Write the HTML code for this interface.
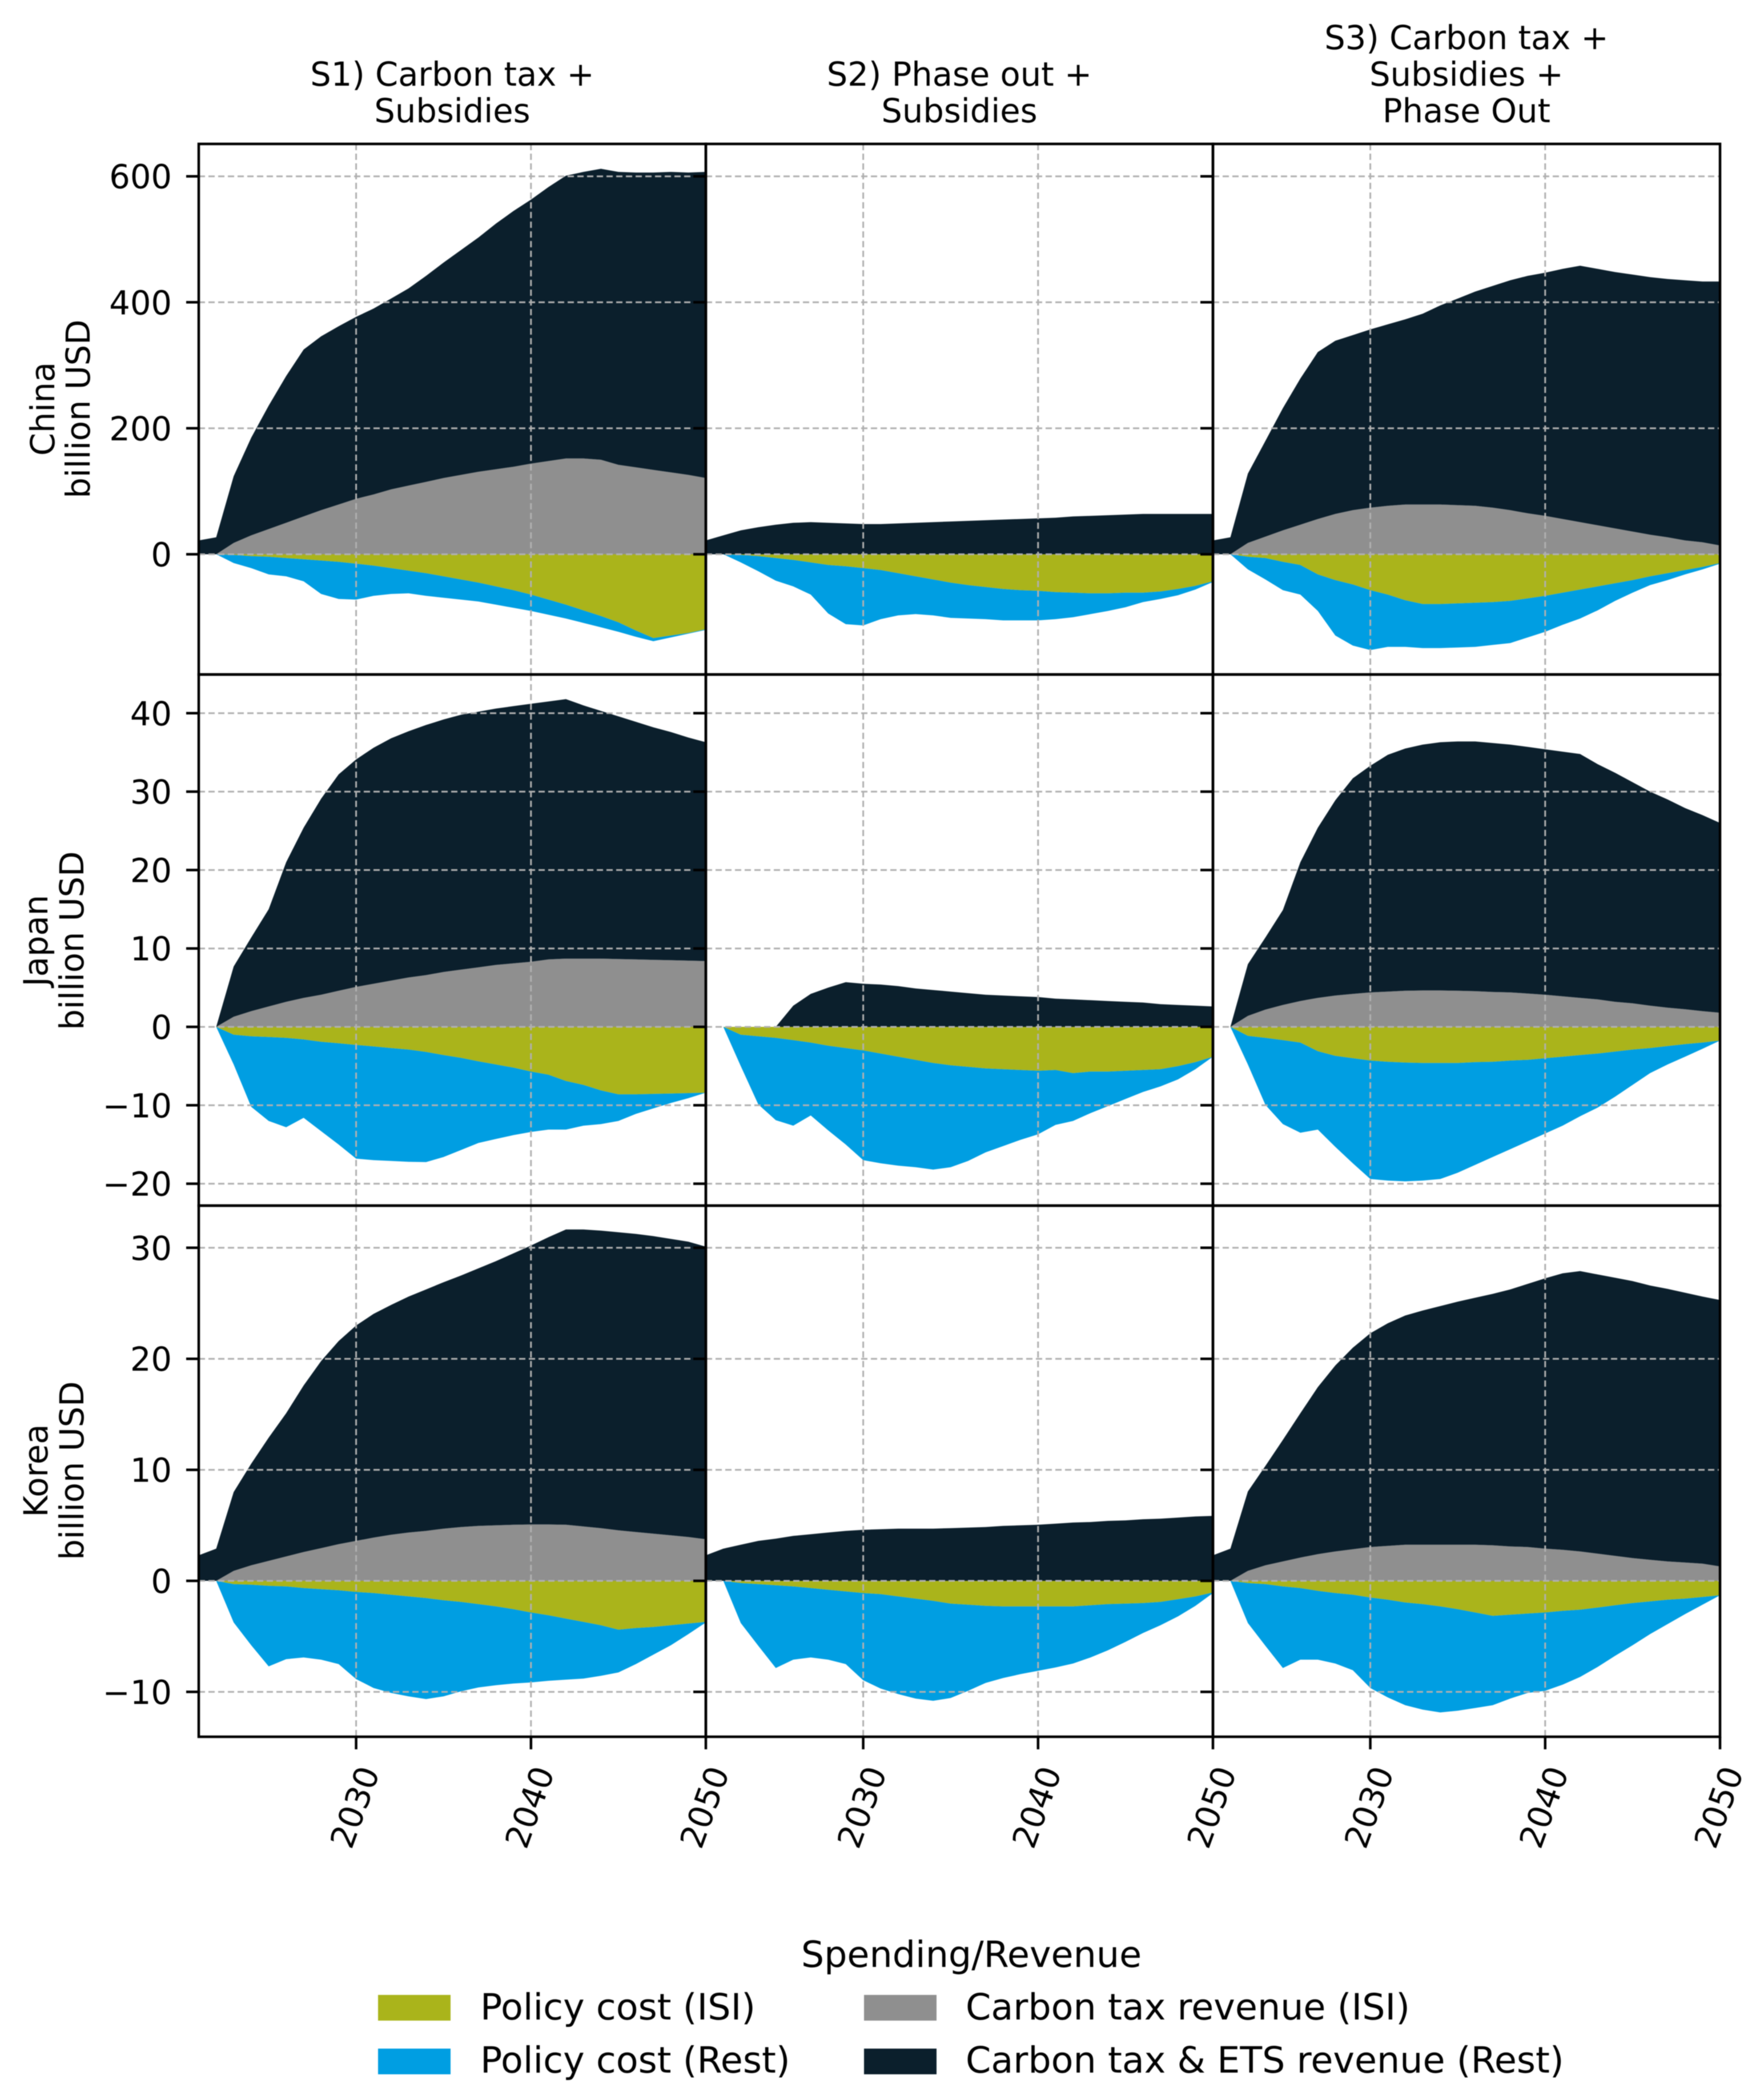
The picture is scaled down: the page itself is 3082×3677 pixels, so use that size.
<!DOCTYPE html>
<html lang="en">
<head>
<meta charset="utf-8">
<title>Spending and revenue by scenario</title>
<style>
html,body{margin:0;padding:0;background:#fff;}
svg{display:block;font-family:"DejaVu Sans","Liberation Sans",sans-serif;fill:#000;filter:blur(0.8px);}
text{font-size:57.5px;}
.legend-text{font-size:63.5px;}
</style>
</head>
<body>
<svg id="chart" xmlns="http://www.w3.org/2000/svg" width="3082" height="3677" viewBox="0 0 3082 3677">
  <rect x="0" y="0" width="3082" height="3677" fill="#ffffff"/>
  <g id="panels"></g>

  <g text-anchor="middle">
    <text x="792" y="150">S1) Carbon tax +</text>
    <text x="792" y="214">Subsidies</text>
    <text x="1680" y="150">S2) Phase out +</text>
    <text x="1680" y="214">Subsidies</text>
    <text x="2568" y="86">S3) Carbon tax +</text>
    <text x="2568" y="150">Subsidies +</text>
    <text x="2568" y="214">Phase Out</text>
  </g>

  <g text-anchor="middle">
    <text transform="translate(95 716) rotate(-90)">China</text>
    <text transform="translate(157 716) rotate(-90)">billion USD</text>
    <text transform="translate(83 1647) rotate(-90)">Japan</text>
    <text transform="translate(146 1647) rotate(-90)">billion USD</text>
    <text transform="translate(83 2575) rotate(-90)">Korea</text>
    <text transform="translate(146 2575) rotate(-90)">billion USD</text>
  </g>

  <g>
    <text class="legend-text" x="1701" y="3444" text-anchor="middle">Spending/Revenue</text>
    <g>
      <rect x="662" y="3493" width="127" height="45" fill="#aab41b"/>
      <text class="legend-text" x="841" y="3536">Policy cost (ISI)</text>
    </g>
    <g>
      <rect x="662" y="3587" width="127" height="45" fill="#009ee2"/>
      <text class="legend-text" x="841" y="3629">Policy cost (Rest)</text>
    </g>
    <g>
      <rect x="1513" y="3493" width="127" height="45" fill="#8f8f8f"/>
      <text class="legend-text" x="1691" y="3536">Carbon tax revenue (ISI)</text>
    </g>
    <g>
      <rect x="1513" y="3587" width="127" height="45" fill="#0b1f2c"/>
      <text class="legend-text" x="1691" y="3629">Carbon tax &amp; ETS revenue (Rest)</text>
    </g>
  </g>
</svg>

<script>
// ---- categories and tick labels ----
const years = [2021,2022,2023,2024,2025,2026,2027,2028,2029,2030,2031,2032,2033,2034,2035,2036,2037,2038,2039,2040,2041,2042,2043,2044,2045,2046,2047,2048,2049,2050];
const xTickYears = [2030,2040,2050];
const chinaTicks = [0,200,400,600];
const japanTicks = [-20,-10,0,10,20,30,40];
const koreaTicks = [-10,0,10,20,30];

// ---- China, S1 ----
const chinaS1TaxIsi = [0,0,18,30,40,50,60,70,79,88,95,103,109,115,121,126,131,135,139,144,148,152,152,150,142,138,134,130,126,121];
const chinaS1TaxTotal = [22,27,124,185,236,283,325,346,362,377,390,406,422,442,463,483,503,525,545,563,583,601,607,612,607,606,606,607,606,607];
const chinaS1CostIsi = [0,0,-1,-3,-4,-6,-8,-10,-12,-15,-18,-22,-26,-30,-35,-40,-45,-51,-57,-64,-72,-80,-89,-98,-108,-121,-133,-129,-125,-119];
const chinaS1CostTotal = [0,0,-14,-22,-32,-35,-43,-63,-71,-72,-66,-63,-62,-66,-69,-72,-75,-80,-85,-90,-96,-102,-109,-116,-123,-131,-138,-132,-126,-120];

// ---- China, S2 ----
const chinaS2TaxIsi = [0,0,0,0,0,0,0,0,0,0,0,0,0,0,0,0,0,0,0,0,0,0,0,0,0,0,0,0,0,0];
const chinaS2TaxTotal = [22,30,38,43,47,50,51,50,49,48,48,49,50,51,52,53,54,55,56,57,58,60,61,62,63,64,64,64,64,64];
const chinaS2CostIsi = [0,0,-1,-3,-6,-9,-13,-17,-19,-22,-25,-30,-35,-40,-45,-49,-52,-55,-57,-58,-60,-61,-62,-62,-61,-61,-59,-55,-50,-43];
const chinaS2CostTotal = [0,0,-13,-27,-42,-51,-64,-94,-111,-113,-103,-97,-95,-97,-101,-102,-103,-105,-105,-105,-103,-100,-95,-90,-84,-76,-71,-65,-56,-44];

// ---- China, S3 ----
const chinaS3TaxIsi = [0,0,18,28,38,47,56,64,70,74,77,79,79,79,78,77,74,70,65,61,56,51,46,41,36,31,27,22,19,14];
const chinaS3TaxTotal = [22,27,128,180,232,279,321,339,348,357,365,373,382,395,406,417,426,435,442,447,453,458,453,448,444,440,437,435,433,433];
const chinaS3CostIsi = [0,0,-4,-6,-12,-17,-32,-41,-48,-57,-64,-73,-79,-79,-78,-77,-76,-74,-70,-66,-61,-56,-51,-46,-41,-35,-30,-25,-20,-14];
const chinaS3CostTotal = [0,0,-24,-40,-57,-64,-90,-129,-145,-152,-147,-147,-149,-149,-148,-147,-144,-141,-132,-123,-112,-102,-89,-74,-61,-49,-41,-32,-24,-15];

// ---- Japan, S1 ----
const japanS1TaxIsi = [0,0,1.3,2,2.6,3.2,3.7,4.1,4.6,5.1,5.5,5.9,6.3,6.6,7,7.3,7.6,7.9,8.1,8.3,8.6,8.7,8.7,8.7,8.65,8.6,8.55,8.5,8.45,8.4];
const japanS1TaxTotal = [0,0,7.7,11.4,15,21,25.4,29.1,32.2,34.1,35.6,36.8,37.7,38.5,39.2,39.8,40.2,40.6,40.9,41.2,41.5,41.8,41,40.3,39.6,38.9,38.2,37.6,36.9,36.3];
const japanS1CostIsi = [0,0,-1,-1.2,-1.3,-1.4,-1.6,-1.9,-2.1,-2.3,-2.5,-2.7,-2.9,-3.2,-3.6,-3.95,-4.4,-4.8,-5.2,-5.7,-6.1,-6.9,-7.4,-8.1,-8.6,-8.6,-8.55,-8.5,-8.45,-8.4];
const japanS1CostTotal = [0,0,-4.8,-10.2,-12,-12.8,-11.6,-13.3,-15,-16.8,-17,-17.1,-17.2,-17.25,-16.6,-15.7,-14.8,-14.3,-13.8,-13.4,-13.1,-13.1,-12.6,-12.4,-12,-11.1,-10.4,-9.7,-9.1,-8.4];

// ---- Japan, S2 ----
const japanS2TaxIsi = [0,0,0,0,0,0,0,0,0,0,0,0,0,0,0,0,0,0,0,0,0,0,0,0,0,0,0,0,0,0];
const japanS2TaxTotal = [0,0,0,0,0,2.7,4.2,5,5.7,5.5,5.4,5.2,4.9,4.7,4.5,4.3,4.1,4,3.9,3.8,3.6,3.5,3.4,3.3,3.2,3.1,2.9,2.8,2.7,2.6];
const japanS2CostIsi = [0,0,-1,-1.2,-1.4,-1.7,-2,-2.4,-2.7,-3,-3.4,-3.8,-4.2,-4.6,-4.9,-5.1,-5.3,-5.4,-5.5,-5.6,-5.5,-5.9,-5.7,-5.7,-5.6,-5.5,-5.4,-5,-4.5,-3.8];
const japanS2CostTotal = [0,0,-5,-9.9,-11.9,-12.6,-11.3,-13.2,-15,-17,-17.4,-17.7,-17.9,-18.2,-17.9,-17.1,-16,-15.2,-14.4,-13.7,-12.5,-12,-11,-10.1,-9.2,-8.3,-7.6,-6.7,-5.4,-3.8];

// ---- Japan, S3 ----
const japanS3TaxIsi = [0,0,1.4,2.2,2.8,3.3,3.7,4,4.2,4.4,4.5,4.6,4.65,4.65,4.6,4.55,4.45,4.4,4.25,4.1,3.9,3.7,3.5,3.2,3,2.7,2.45,2.25,2,1.8];
const japanS3TaxTotal = [0,0,8,11.4,14.9,21,25.4,28.9,31.7,33.3,34.7,35.5,36,36.3,36.4,36.4,36.2,36,35.7,35.4,35.1,34.8,33.5,32.4,31.2,30,29,27.9,27,26];
const japanS3CostIsi = [0,0,-1.15,-1.4,-1.7,-2,-3.1,-3.7,-4,-4.3,-4.45,-4.55,-4.6,-4.6,-4.6,-4.5,-4.45,-4.3,-4.2,-4,-3.8,-3.6,-3.4,-3.15,-2.9,-2.7,-2.45,-2.2,-2,-1.75];
const japanS3CostTotal = [0,0,-4.8,-9.95,-12.4,-13.5,-13.1,-15.3,-17.4,-19.4,-19.6,-19.7,-19.6,-19.4,-18.6,-17.6,-16.6,-15.6,-14.6,-13.6,-12.6,-11.4,-10.3,-8.9,-7.4,-5.9,-4.8,-3.8,-2.8,-1.75];

// ---- Korea, S1 ----
const koreaS1TaxIsi = [0,0,0.9,1.4,1.8,2.2,2.6,2.95,3.3,3.6,3.9,4.15,4.35,4.5,4.7,4.85,4.95,5,5.05,5.08,5.08,5.05,4.9,4.75,4.55,4.4,4.25,4.1,3.95,3.75];
const koreaS1TaxTotal = [2.3,2.9,8,10.55,12.9,15.1,17.6,19.8,21.6,23,24.05,24.85,25.6,26.25,26.9,27.5,28.15,28.8,29.5,30.2,30.95,31.65,31.65,31.55,31.4,31.25,31.05,30.8,30.55,30.1];
const koreaS1CostIsi = [0,0,-0.3,-0.35,-0.45,-0.5,-0.65,-0.75,-0.85,-1,-1.1,-1.25,-1.4,-1.55,-1.75,-1.9,-2.1,-2.3,-2.55,-2.85,-3.1,-3.4,-3.7,-4,-4.4,-4.25,-4.15,-4,-3.85,-3.7];
const koreaS1CostTotal = [0,0,-3.75,-5.8,-7.7,-7.05,-6.9,-7.1,-7.5,-8.85,-9.65,-10.1,-10.4,-10.65,-10.4,-9.95,-9.6,-9.4,-9.25,-9.15,-9,-8.9,-8.8,-8.55,-8.25,-7.5,-6.65,-5.8,-4.8,-3.75];

// ---- Korea, S2 ----
const koreaS2TaxIsi = [0,0,0,0,0,0,0,0,0,0,0,0,0,0,0,0,0,0,0,0,0,0,0,0,0,0,0,0,0,0];
const koreaS2TaxTotal = [2.3,2.9,3.25,3.6,3.8,4.05,4.2,4.35,4.5,4.6,4.65,4.7,4.7,4.7,4.75,4.8,4.85,4.95,5,5.05,5.15,5.25,5.3,5.4,5.45,5.55,5.6,5.7,5.8,5.85];
const koreaS2CostIsi = [0,0,-0.2,-0.3,-0.4,-0.5,-0.65,-0.8,-0.95,-1.1,-1.2,-1.4,-1.6,-1.8,-2.05,-2.15,-2.25,-2.3,-2.3,-2.3,-2.3,-2.3,-2.2,-2.1,-2.05,-2,-1.9,-1.65,-1.4,-1.05];
const koreaS2CostTotal = [0,0,-3.8,-5.85,-7.85,-7.1,-6.9,-7.1,-7.5,-8.95,-9.7,-10.2,-10.6,-10.8,-10.55,-9.9,-9.2,-8.75,-8.4,-8.1,-7.8,-7.45,-6.9,-6.25,-5.5,-4.7,-4,-3.2,-2.25,-1.1];

// ---- Korea, S3 ----
const koreaS3TaxIsi = [0,0,0.9,1.4,1.75,2.1,2.4,2.65,2.85,3.05,3.15,3.25,3.25,3.25,3.25,3.25,3.2,3.1,3.05,2.9,2.8,2.65,2.45,2.25,2.05,1.9,1.75,1.65,1.55,1.3];
const koreaS3TaxTotal = [2.3,2.9,8.05,10.35,12.7,15.1,17.45,19.4,21,22.3,23.2,23.9,24.35,24.75,25.15,25.5,25.85,26.25,26.75,27.25,27.7,27.9,27.6,27.3,27,26.6,26.3,25.95,25.6,25.3];
const koreaS3CostIsi = [0,0,-0.2,-0.3,-0.5,-0.65,-0.9,-1.1,-1.25,-1.5,-1.7,-1.95,-2.1,-2.3,-2.55,-2.85,-3.15,-3.05,-2.95,-2.85,-2.7,-2.6,-2.4,-2.2,-2,-1.85,-1.7,-1.6,-1.45,-1.3];
const koreaS3CostTotal = [0,0,-3.8,-5.85,-7.85,-7.1,-7.1,-7.45,-8.05,-9.65,-10.5,-11.2,-11.6,-11.85,-11.7,-11.45,-11.2,-10.6,-10.1,-9.9,-9.35,-8.65,-7.75,-6.75,-5.8,-4.8,-3.9,-3,-2.15,-1.3];

// ---- layout ----
const SVG_NS = 'http://www.w3.org/2000/svg';
const COL_LEFT = [348, 1236, 2124];
const COL_WIDTH = 888;
const ROW_TOP = [252, 1181, 2111];
const ROW_BOTTOM = [1181, 2111, 3041];
const X_MIN = 2021, X_MAX = 2050;
const ROW_DOMAIN = [
  {zeroY: 970.5, pxPerUnit: 1.103},
  {zeroY: 1798, pxPerUnit: 13.73},
  {zeroY: 2768, pxPerUnit: 19.44}
];
const COLORS = {costIsi: '#aab41b', costRest: '#009ee2', taxIsi: '#8f8f8f', taxRest: '#0b1f2c'};

function xScale(col, year) {
  return COL_LEFT[col] + (year - X_MIN) / (X_MAX - X_MIN) * COL_WIDTH;
}
function yScale(row, value) {
  return ROW_DOMAIN[row].zeroY - value * ROW_DOMAIN[row].pxPerUnit;
}
function areaPoints(col, row, upper, lower) {
  const fwd = years.map(function (yr, i) {
    return xScale(col, yr).toFixed(1) + ',' + yScale(row, upper[i]).toFixed(1);
  });
  const back = years.map(function (yr, i) {
    return xScale(col, yr).toFixed(1) + ',' + yScale(row, lower ? lower[i] : 0).toFixed(1);
  }).reverse();
  return fwd.concat(back).join(' ');
}
function makeEl(tag, parent) {
  const el = document.createElementNS(SVG_NS, tag);
  parent.appendChild(el);
  return el;
}
function line(parent, x1, y1, x2, y2, stroke, width, dash) {
  const el = makeEl('line', parent);
  el.setAttribute('x1', x1);
  el.setAttribute('y1', y1);
  el.setAttribute('x2', x2);
  el.setAttribute('y2', y2);
  el.setAttribute('stroke', stroke);
  el.setAttribute('stroke-width', width);
  if (dash) el.setAttribute('stroke-dasharray', dash);
  return el;
}

const panelData = [
  [
    [chinaS1TaxIsi, chinaS1TaxTotal, chinaS1CostIsi, chinaS1CostTotal],
    [chinaS2TaxIsi, chinaS2TaxTotal, chinaS2CostIsi, chinaS2CostTotal],
    [chinaS3TaxIsi, chinaS3TaxTotal, chinaS3CostIsi, chinaS3CostTotal]
  ],
  [
    [japanS1TaxIsi, japanS1TaxTotal, japanS1CostIsi, japanS1CostTotal],
    [japanS2TaxIsi, japanS2TaxTotal, japanS2CostIsi, japanS2CostTotal],
    [japanS3TaxIsi, japanS3TaxTotal, japanS3CostIsi, japanS3CostTotal]
  ],
  [
    [koreaS1TaxIsi, koreaS1TaxTotal, koreaS1CostIsi, koreaS1CostTotal],
    [koreaS2TaxIsi, koreaS2TaxTotal, koreaS2CostIsi, koreaS2CostTotal],
    [koreaS3TaxIsi, koreaS3TaxTotal, koreaS3CostIsi, koreaS3CostTotal]
  ]
];
const rowTicks = [chinaTicks, japanTicks, koreaTicks];
const rowNames = ['china', 'japan', 'korea'];
const colNames = ['s1', 's2', 's3'];
const root = document.getElementById('panels');

// clipping rectangles per panel
const defs = makeEl('defs', root);
rowNames.forEach(function (rn, r) {
  colNames.forEach(function (cn, c) {
    const clip = makeEl('clipPath', defs);
    clip.setAttribute('id', 'clip-' + rn + '-' + cn);
    const rc = makeEl('rect', clip);
    rc.setAttribute('x', COL_LEFT[c]);
    rc.setAttribute('y', ROW_TOP[r]);
    rc.setAttribute('width', COL_WIDTH);
    rc.setAttribute('height', ROW_BOTTOM[r] - ROW_TOP[r]);
  });
});

rowNames.forEach(function (rn, r) {
  colNames.forEach(function (cn, c) {
    const d = panelData[r][c];
    const g = makeEl('g', root);
    
    
    g.setAttribute('clip-path', 'url(#clip-' + rn + '-' + cn + ')');

    const aCostIsi = makeEl('polygon', g);
    
    
    aCostIsi.setAttribute('fill', COLORS.costIsi);
    aCostIsi.setAttribute('points', areaPoints(c, r, d[2], null));

    const aCostRest = makeEl('polygon', g);
    
    
    aCostRest.setAttribute('fill', COLORS.costRest);
    aCostRest.setAttribute('points', areaPoints(c, r, d[3], d[2]));

    const aTaxIsi = makeEl('polygon', g);
    
    
    aTaxIsi.setAttribute('fill', COLORS.taxIsi);
    aTaxIsi.setAttribute('points', areaPoints(c, r, d[0], null));

    const aTaxRest = makeEl('polygon', g);
    
    
    aTaxRest.setAttribute('fill', COLORS.taxRest);
    aTaxRest.setAttribute('points', areaPoints(c, r, d[1], d[0]));

    // grid lines over the areas
    rowTicks[r].forEach(function (t) {
      const gl = line(g, COL_LEFT[c], yScale(r, t), COL_LEFT[c] + COL_WIDTH, yScale(r, t), '#b0b0b0', 3, '11 6');
      
      
    });
    xTickYears.forEach(function (yr) {
      const gl = line(g, xScale(c, yr), ROW_TOP[r], xScale(c, yr), ROW_BOTTOM[r], '#b0b0b0', 3, '11 6');
      
      
    });
  });
});

// spines and ticks on top of every panel
rowNames.forEach(function (rn, r) {
  colNames.forEach(function (cn, c) {
    const frame = makeEl('rect', root);
    
    
    frame.setAttribute('x', COL_LEFT[c]);
    frame.setAttribute('y', ROW_TOP[r]);
    frame.setAttribute('width', COL_WIDTH);
    frame.setAttribute('height', ROW_BOTTOM[r] - ROW_TOP[r]);
    frame.setAttribute('fill', 'none');
    frame.setAttribute('stroke', '#000');
    frame.setAttribute('stroke-width', 4.5);

    rowTicks[r].forEach(function (t) {
      const tk = line(root, COL_LEFT[c] - 22, yScale(r, t), COL_LEFT[c], yScale(r, t), '#000', 4.5);
      
      
      if (c === 0) {
        const lb = makeEl('text', root);
        
        
        lb.setAttribute('x', 301);
        lb.setAttribute('y', yScale(r, t) + 21);
        lb.setAttribute('text-anchor', 'end');
        lb.textContent = String(t).replace('-', '\u2212');
      }
    });

    if (r === 2) {
      xTickYears.forEach(function (yr) {
        const tk = line(root, xScale(c, yr), ROW_BOTTOM[r], xScale(c, yr), ROW_BOTTOM[r] + 22, '#000', 4.5);
        
        
        const lb = makeEl('text', root);
        
        
        lb.setAttribute('text-anchor', 'middle');
        lb.setAttribute('transform', 'translate(' + (xScale(c, yr) - 3) + ' 3164) rotate(-70)');
        lb.setAttribute('y', 21);
        lb.textContent = String(yr);
      });
    }
  });
});
</script>
</body>
</html>
